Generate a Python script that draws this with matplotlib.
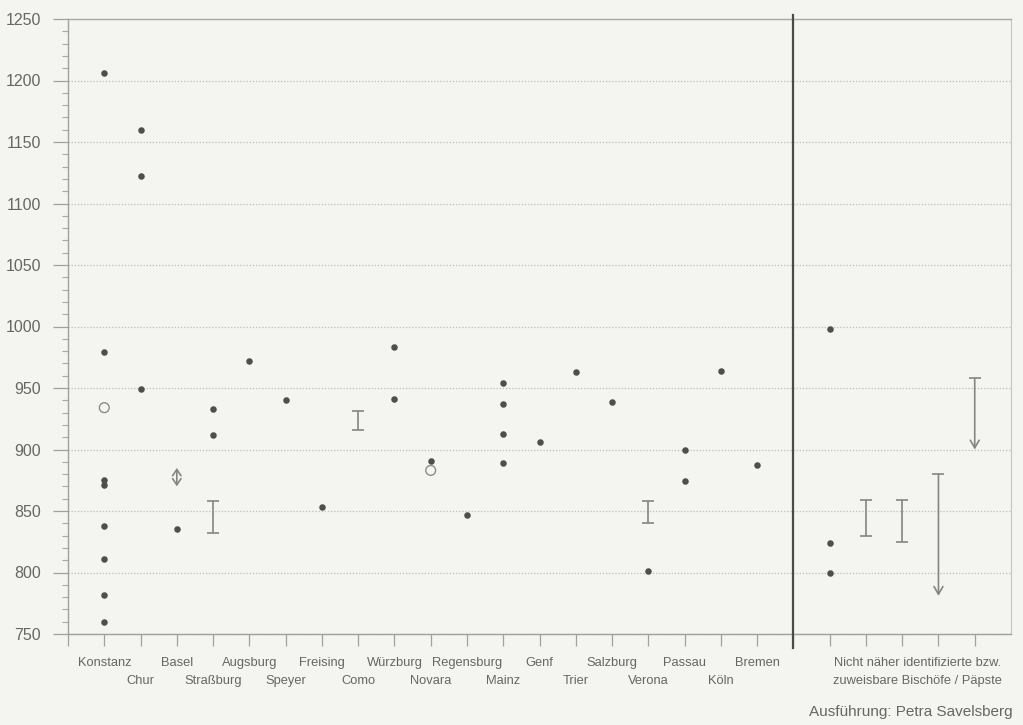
import matplotlib
matplotlib.use("Agg")
import matplotlib.pyplot as plt
from matplotlib.ticker import MultipleLocator
import matplotlib.transforms as mtransforms

# ---------------- data ----------------
categories = ['Konstanz', 'Chur', 'Basel', 'Straßburg', 'Augsburg', 'Speyer',
              'Freising', 'Como', 'Würzburg', 'Novara', 'Regensburg', 'Mainz',
              'Genf', 'Trier', 'Salzburg', 'Verona', 'Passau', 'Köln', 'Bremen']
unknown_cols = ['U1', 'U2', 'U3', 'U4', 'U5']
unknown_label = ['Nicht näher identifizierte bzw.', 'zuweisbare Bischöfe / Päpste']
credit = 'Ausführung: Petra Savelsberg'

# exact dates (filled dots)
dot_cat = (['Konstanz'] * 8 + ['Chur'] * 3 + ['Basel'] + ['Straßburg'] * 2 +
           ['Augsburg', 'Speyer', 'Freising'] + ['Würzburg'] * 2 +
           ['Novara', 'Regensburg'] + ['Mainz'] * 4 +
           ['Genf', 'Trier', 'Salzburg', 'Verona'] + ['Passau'] * 2 +
           ['Köln', 'Bremen'] + ['U1'] * 3)
dot_year = [1206, 979, 875, 871, 838, 811, 782, 760,
            1160, 1122, 949,
            835,
            933, 912,
            972, 940, 853,
            983, 941,
            891, 847,
            954, 937, 913, 889,
            906, 963, 939, 801,
            900, 874,
            964, 887,
            998, 824, 800]

# uncertain dates (open circles)
open_cat = ['Konstanz', 'Novara']
open_year = [934, 883]

# date ranges (I-bars)
range_cat = ['Straßburg', 'Como', 'Verona', 'U2', 'U3']
range_low = [832, 916, 840, 830, 825]
range_high = [858, 931, 858, 859, 859]

# double arrow (approximate)
darrow_cat = ['Basel']
darrow_low = [870]
darrow_high = [885]

# "before" ranges: cap at top, arrow pointing down
down_cat = ['U4', 'U5']
down_high = [880, 958]
down_low = [781, 900]

# ---------------- layout ----------------
pos = {c: i + 1 for i, c in enumerate(categories)}
for j, c in enumerate(unknown_cols):
    pos[c] = len(categories) + 2 + j
divider = len(categories) + 1
xmax = len(categories) + len(unknown_cols) + 2

bg = '#f4f4f1'
txt = '#666666'
dotc = '#4e4e4e'
barc = '#858585'

plt.rcParams['font.family'] = ['Liberation Sans', 'DejaVu Sans']

fig = plt.figure(figsize=(10.23, 7.25), dpi=100, facecolor=bg)
ax = fig.add_axes([68 / 1023, 91 / 725, 943 / 1023, 615 / 725])
ax.set_facecolor(bg)
ax.set_xlim(0, xmax)
ax.set_ylim(750, 1250)

# grid
ax.yaxis.set_major_locator(MultipleLocator(50))
ax.yaxis.set_minor_locator(MultipleLocator(10))
ax.grid(axis='y', which='major', linestyle=(0, (1, 1.5)), color='#bcbcbc', lw=0.9)
ax.set_axisbelow(True)

# spines
for s in ['left', 'bottom']:
    ax.spines[s].set_color('#a0a0a0')
    ax.spines[s].set_linewidth(1.0)
ax.spines['top'].set_color('#a8a8a8')
ax.spines['right'].set_color('#c4c4c4')
ax.spines['top'].set_linewidth(1.0)
ax.spines['right'].set_linewidth(0.8)

# ticks
ax.tick_params(axis='y', which='major', direction='out', length=11, width=0.9,
               color='#a0a0a0', pad=8.5, labelsize=11.5, labelcolor=txt)
ax.tick_params(axis='y', which='minor', direction='out', length=4.5, width=0.8,
               color='#a8a8a8')
ax.set_xticks(range(0, xmax))
ax.set_xticklabels([])
ax.tick_params(axis='x', which='major', direction='out', length=8.5, width=0.9,
               color='#a0a0a0')

# category labels (staggered in two rows)
row_y = [-0.037, -0.066]
trans = mtransforms.blended_transform_factory(ax.transData, ax.transAxes)
for i, c in enumerate(categories):
    ax.text(pos[c], row_y[i % 2], c, transform=trans, ha='center', va='top',
            fontsize=9.3, color=txt)
for k, line in enumerate(unknown_label):
    ax.text(pos['U3'] + 0.42, row_y[k], line, transform=trans, ha='center',
            va='top', fontsize=9.3, color=txt)
fig.text(1013 / 1023, 13 / 725, credit, ha='right', va='center',
         fontsize=11, color=txt)

# divider line
ax.axvline(divider, ymin=-0.023, ymax=1.007, color='#4a4a4a', lw=1.6,
           clip_on=False, zorder=5)

# marks
ax.scatter([pos[c] for c in dot_cat], dot_year, s=22, color=dotc, zorder=6,
           linewidths=0)
ax.scatter([pos[c] for c in open_cat], open_year, s=50, facecolor='none',
           edgecolor='#8c8c8c', linewidths=1.0, zorder=6)

rx = [pos[c] for c in range_cat]
rmid = [(l + h) / 2 for l, h in zip(range_low, range_high)]
rerr = [(h - l) / 2 for l, h in zip(range_low, range_high)]
ax.errorbar(rx, rmid, yerr=rerr, fmt='none', ecolor=barc, elinewidth=1.2,
            capsize=4, capthick=1.2, zorder=6)

for c, l, h in zip(darrow_cat, darrow_low, darrow_high):
    ax.annotate('', xy=(pos[c], l), xytext=(pos[c], h),
                arrowprops=dict(arrowstyle='<->,head_length=0.45,head_width=0.3',
                                color=barc, lw=1.2, shrinkA=0, shrinkB=0),
                zorder=6)

for c, h, l in zip(down_cat, down_high, down_low):
    ax.annotate('', xy=(pos[c], l), xytext=(pos[c], h),
                arrowprops=dict(arrowstyle='->,head_length=0.55,head_width=0.32',
                                color=barc, lw=1.2, shrinkA=0, shrinkB=0),
                zorder=6)
    ax.plot([pos[c]], [h], marker='_', markersize=8, mew=1.2, color=barc,
            zorder=6)

fig.savefig('out.png', dpi=100, facecolor=bg)
